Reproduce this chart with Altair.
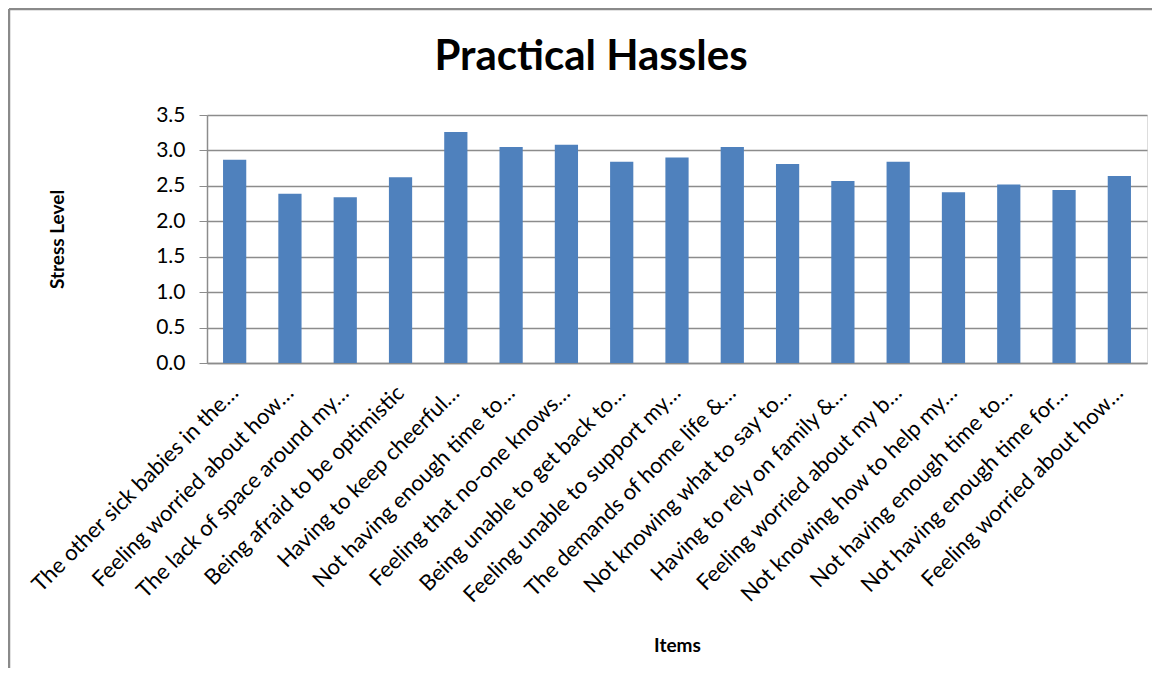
import json
import altair as alt
import pandas as pd

items = [
    "The other sick babies in the\u2026",
    "Feeling worried  about how\u2026",
    "The lack of space around my\u2026",
    "Being afraid to be optimistic",
    "Having to keep cheerful\u2026",
    "Not having enough time to\u2026",
    "Feeling that no-one knows\u2026",
    "Being unable to get back to\u2026",
    "Feeling unable to support my\u2026",
    "The demands of home life &\u2026",
    "Not knowing what to say to\u2026",
    "Having to rely on family &\u2026",
    "Feeling worried about my b\u2026",
    "Not knowing how to help my\u2026",
    "Not having enough time to\u2026",
    "Not having enough time for\u2026",
    "Feeling worried  about how\u2026",
]
stress = [2.87, 2.39, 2.34, 2.62, 3.26, 3.05, 3.08, 2.84, 2.90,
          3.05, 2.81, 2.57, 2.84, 2.41, 2.52, 2.44, 2.64]
y_ticks = [0.0, 0.5, 1.0, 1.5, 2.0, 2.5, 3.0, 3.5]

df = pd.DataFrame({"idx": list(range(len(items))), "item": items, "stress": stress})

FONT = "Lato"
W, H = 940, 248
PAD_L, PAD_T, PAD_R, PAD_B = 199, 107, 5, 305

label_expr = json.dumps(items) + "[datum.value]"

bars = alt.Chart(df).mark_bar(color="#4f81bd").encode(
    x=alt.X(
        "idx:O",
        sort="ascending",
        scale=alt.Scale(paddingInner=0.58, paddingOuter=0.29),
        axis=alt.Axis(
            title="Items",
            labelExpr=label_expr,
            labelAngle=-45,
            labelAlign="right",
            labelBaseline="middle",
            labelFont=FONT,
            labelFontSize=22,
            labelColor="#000000",
            labelLimit=0,
            labelPadding=26,
            labelOverlap=False,
            ticks=False,
            domainColor="#8c8c8c",
            domainWidth=1.5,
            titleFont=FONT,
            titleFontSize=19,
            titleFontWeight="bold",
            titleColor="#000000",
            titleX=W / 2,
            titleY=282,
            titleAlign="center",
            titleBaseline="middle",
        ),
    ),
    y=alt.Y(
        "stress:Q",
        scale=alt.Scale(domain=[0, 3.5], nice=False),
        axis=alt.Axis(
            title="Stress Level",
            values=y_ticks,
            format=".1f",
            labelFont=FONT,
            labelFontSize=21,
            labelColor="#000000",
            labelPadding=14,
            tickSize=8,
            tickColor="#8c8c8c",
            domainColor="#8c8c8c",
            domainWidth=1.5,
            gridColor="#8c8c8c",
            gridWidth=1.5,
            titleFont=FONT,
            titleFontSize=19,
            titleFontWeight="bold",
            titleColor="#000000",
            titleX=-150,
            titleY=H / 2,
            titleAngle=-90,
            titleAlign="center",
            titleBaseline="middle",
        ),
    ),
)

frame = alt.Data(values=[{"k": 0}])
left_border = alt.Chart(frame).mark_rule(color="#8a8a8a", strokeWidth=2.5).encode(
    x=alt.value(-PAD_L + 1),
    y=alt.value(-PAD_T + 1),
    y2=alt.value(H + PAD_B),
)
top_border = alt.Chart(frame).mark_rule(color="#8a8a8a", strokeWidth=2.5).encode(
    x=alt.value(-PAD_L + 1),
    x2=alt.value(W + PAD_R),
    y=alt.value(-PAD_T + 1),
)

chart = alt.layer(bars, left_border, top_border).properties(
    width=W,
    height=H,
    title=alt.TitleParams(
        "Practical Hassles",
        font=FONT,
        fontSize=42,
        fontWeight="bold",
        color="#000000",
        anchor="middle",
        baseline="alphabetic",
        dx=-86,
        offset=-104,
    ),
    padding={"left": PAD_L, "top": PAD_T, "right": PAD_R, "bottom": PAD_B},
    autosize=alt.AutoSizeParams(type="none"),
).configure_view(stroke=None).configure(background="white")

chart.save("out.html", embed_options={"renderer": "svg", "actions": False})
